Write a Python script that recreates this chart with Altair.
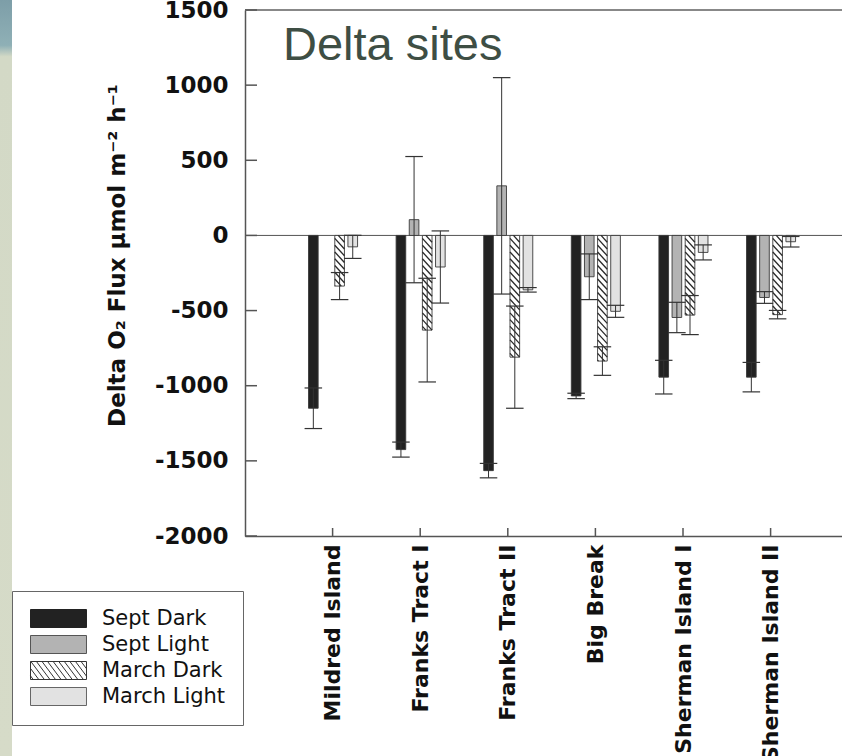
import altair as alt
import pandas as pd
import numpy as np

# ---------------- data ----------------
SITES = ["Mildred Island", "Franks Tract I", "Franks Tract II", "Big Break",
         "Sherman Island I", "Sherman Island II"]
SERIES = ["Sept Dark", "Sept Light", "March Dark", "March Light"]

SEPT_DARK = [-1150, -1425, -1565, -1068, -943, -943]
SEPT_DARK_ERR = [135, 50, 48, 18, 112, 98]
SEPT_LIGHT = [None, 105, 330, -275, -546, -413]
SEPT_LIGHT_ERR = [None, 420, 720, 152, 101, 39]
MARCH_DARK = [-337, -630, -810, -836, -530, -527]
MARCH_DARK_ERR = [90, 345, 340, 95, 130, 28]
MARCH_LIGHT = [-76, -210, -362, -505, -113, -42]
MARCH_LIGHT_ERR = [77, 240, 15, 40, 50, 35]

Y_TICKS = [-2000, -1500, -1000, -500, 0, 500, 1000, 1500]
TITLE = "Delta sites"
Y_TITLE = "Delta O\u2082 Flux \u03bcmol m\u207b\u00b2 h\u207b\u00b9"

VALUES = [SEPT_DARK, SEPT_LIGHT, MARCH_DARK, MARCH_LIGHT]
ERRS = [SEPT_DARK_ERR, SEPT_LIGHT_ERR, MARCH_DARK_ERR, MARCH_LIGHT_ERR]

rows = []
for s_i in range(len(SITES)):
    for k in range(len(SERIES)):
        v = VALUES[k][s_i]
        if v is None:
            continue
        rows.append(dict(site=s_i + 1, series=SERIES[k], k=k, value=v, err=ERRS[k][s_i]))
df = pd.DataFrame(rows)

# hatch lines for the "March Dark" bars (derived from the values)
HATCH_DROP = 70.0
HATCH_STEP = 45.0
hrows = []
for s_i, v in enumerate(MARCH_DARK):
    j = 1
    while True:
        y0 = HATCH_DROP - j * HATCH_STEP
        if y0 <= v:
            break
        ta = max(0.0, y0 / HATCH_DROP) if y0 > 0 else 0.0
        tb = min(1.0, (y0 - v) / HATCH_DROP)
        if tb > ta:
            hrows.append(dict(site=s_i + 1, k=2, fa=ta, fb=tb,
                              ya=y0 - HATCH_DROP * ta, yb=y0 - HATCH_DROP * tb))
        j += 1
hdf = pd.DataFrame(hrows)

# ---------------- layout ----------------
W, H = 597, 526
BAR_HALF = 0.055
CAP_HALF = 0.1
XC = "datum.site + (datum.k - 1.5) * 0.15 + 0.005"

FILLS = ["#222222", "#b3b3b3", "#ffffff", "#e2e2e2"]
STROKES = ["#222222", "#555555", "#333333", "#666666"]

xscale = alt.Scale(domain=[0, 6.815], nice=False, zero=False)
yscale = alt.Scale(domain=[-2000, 1500], nice=False, zero=False)
fill_scale = alt.Scale(domain=SERIES, range=FILLS)

label_expr = "[" + ",".join("'%s'" % s for s in SITES) + "][datum.value - 1]"

xaxis = alt.Axis(values=list(range(1, len(SITES) + 1)), labelExpr=label_expr,
                 labelAngle=270, labelAlign="right", labelBaseline="middle",
                 labelFont="DejaVu Sans", labelFontWeight="bold", labelFontSize=22,
                 labelColor="#111", labelPadding=8, labelLimit=400, ticks=False, tickSize=0,
                 grid=False, domainColor="#555", domainWidth=1.5, title=None)
yaxis = alt.Axis(values=Y_TICKS, labelExpr="'' + datum.value",
                 labelFont="DejaVu Sans", labelFontWeight="bold",
                 labelFontSize=23, labelColor="#111", labelPadding=17, ticks=False,
                 tickSize=0, grid=False, domainColor="#555", domainWidth=1.5,
                 title=Y_TITLE, titleFont="DejaVu Sans", titleFontWeight="bold",
                 titleFontSize=23, titleColor="#111", titleAngle=270,
                 titleX=-128, titleY=245, titleAlign="center", titleBaseline="middle")

one = pd.DataFrame({"a": [0]})

# background strip of the slide
strip = alt.Chart(one).mark_rect(
    fill=alt.Gradient(gradient="linear", x1=0, x2=0, y1=0, y2=1,
                      stops=[alt.GradientStop(offset=0, color="#7d9ea8"),
                             alt.GradientStop(offset=0.06, color="#8fb0b6"),
                             alt.GradientStop(offset=0.075, color="#d3d9c6"),
                             alt.GradientStop(offset=1, color="#d6dbc8")])
).encode(x=alt.value(-245), x2=alt.value(-233), y=alt.value(-10), y2=alt.value(H + 220))

top_border = alt.Chart(one).mark_rule(color="#888", strokeWidth=2).encode(
    x=alt.value(0), x2=alt.value(W), y=alt.value(0))

zero_line = alt.Chart(one).mark_rule(color="#555", strokeWidth=1).encode(y=alt.datum(0))

ytick_df = pd.DataFrame({"v": Y_TICKS})
yticks = alt.Chart(ytick_df).mark_rule(color="#555", strokeWidth=1.5).encode(
    y=alt.Y("v:Q", scale=yscale), x=alt.value(0), x2=alt.value(12))

xtick_df = pd.DataFrame({"site": list(range(1, len(SITES) + 1))})
xticks = alt.Chart(xtick_df).mark_rule(color="#555", strokeWidth=1.5).encode(
    x=alt.X("site:Q", scale=xscale), y=alt.value(H), y2=alt.value(H - 8))

# legend swatch paths (unit = 9 px, symbol drawn to the right of its anchor)
SW_L, SW_R = -1.0, 5.222
RECT = "M%.3f,-1H%.3fV1H%.3fZ" % (SW_L, SW_R, SW_L)
hatch_parts = [RECT]
HDX = 1.5
a = SW_L - HDX + 0.3
while a < SW_R:
    xa, ya_ = a, -1.0
    xb, yb_ = a + HDX, 1.0
    if xa < SW_L:
        t = (SW_L - xa) / HDX
        xa, ya_ = SW_L, -1.0 + 2.0 * t
    if xb > SW_R:
        t = (SW_R - a) / HDX
        xb, yb_ = SW_R, -1.0 + 2.0 * t
    if xb > xa:
        hatch_parts.append("M%.3f,%.3fL%.3f,%.3f" % (xa, ya_, xb, yb_))
    a += 0.62
HATCH_PATH = " ".join(hatch_parts)

legend_def = alt.Legend(title=None, orient="none", legendX=-233, legendY=581,
                        symbolSize=324, symbolStrokeWidth=1,
                        symbolOpacity=1, labelFont="DejaVu Sans", labelFontSize=21,
                        labelColor="#111", labelOffset=52, padding=17,
                        strokeColor="#666", fillColor="white", rowPadding=3)

bars = alt.Chart(df).transform_calculate(xc=XC).transform_calculate(
    xl="datum.xc - %f" % BAR_HALF, xr="datum.xc + %f" % BAR_HALF
).mark_bar(stroke="#3a3a3a", strokeWidth=0.9).encode(
    x=alt.X("xl:Q", scale=xscale, axis=xaxis),
    x2="xr:Q",
    y=alt.Y("value:Q", scale=yscale, axis=yaxis),
    y2=alt.datum(0),
    fill=alt.Fill("series:N", scale=fill_scale, legend=legend_def),
)

hatch = alt.Chart(hdf).transform_calculate(xc=XC).transform_calculate(
    x1="datum.xc - %f + datum.fa * %f" % (BAR_HALF, 2 * BAR_HALF),
    x2b="datum.xc - %f + datum.fb * %f" % (BAR_HALF, 2 * BAR_HALF),
).mark_rule(color="#2a2a2a", strokeWidth=1.3).encode(
    x=alt.X("x1:Q", scale=xscale), x2="x2b:Q",
    y=alt.Y("ya:Q", scale=yscale), y2="yb:Q")

err_base = alt.Chart(df).transform_calculate(xc=XC).transform_calculate(
    lo="datum.value - datum.err", hi="datum.value + datum.err",
    cl="datum.xc - %f" % CAP_HALF, cr="datum.xc + %f" % CAP_HALF)

err_line = err_base.mark_rule(color="#333", strokeWidth=1).encode(
    x=alt.X("xc:Q", scale=xscale), y=alt.Y("lo:Q", scale=yscale), y2="hi:Q")
cap_lo = err_base.mark_rule(color="#333", strokeWidth=1.2).encode(
    x=alt.X("cl:Q", scale=xscale), x2="cr:Q", y=alt.Y("lo:Q", scale=yscale))
cap_hi = err_base.mark_rule(color="#333", strokeWidth=1.2).encode(
    x=alt.X("cl:Q", scale=xscale), x2="cr:Q", y=alt.Y("hi:Q", scale=yscale))

title_txt = alt.Chart(pd.DataFrame({"t": [TITLE]})).mark_text(
    font="Liberation Sans", fontSize=47, color="#3e4e44", align="left",
    baseline="alphabetic").encode(text="t:N", x=alt.value(38), y=alt.value(50))

leg = alt.Chart(pd.DataFrame({"series": SERIES})).transform_filter("false").mark_point(
    filled=True, opacity=1, strokeWidth=1).encode(
    fill=alt.Fill("series:N", scale=fill_scale, legend=legend_def),
    stroke=alt.Stroke("series:N", scale=alt.Scale(domain=SERIES, range=STROKES),
                      legend=legend_def),
    shape=alt.Shape("series:N", scale=alt.Scale(domain=SERIES,
                    range=[RECT, RECT, HATCH_PATH, RECT]), legend=legend_def),
)

chart = alt.layer(strip, top_border, zero_line, bars, hatch, err_line, cap_lo, cap_hi,
                  yticks, xticks, title_txt, leg).properties(
    width=W, height=H,
    padding={"left": 245, "top": 10, "right": 0, "bottom": 220},
    autosize=alt.AutoSizeParams(type="none"),
    background="white",
).configure_view(stroke=None)

chart.save("out.html", embed_options={"renderer": "svg", "actions": False})
